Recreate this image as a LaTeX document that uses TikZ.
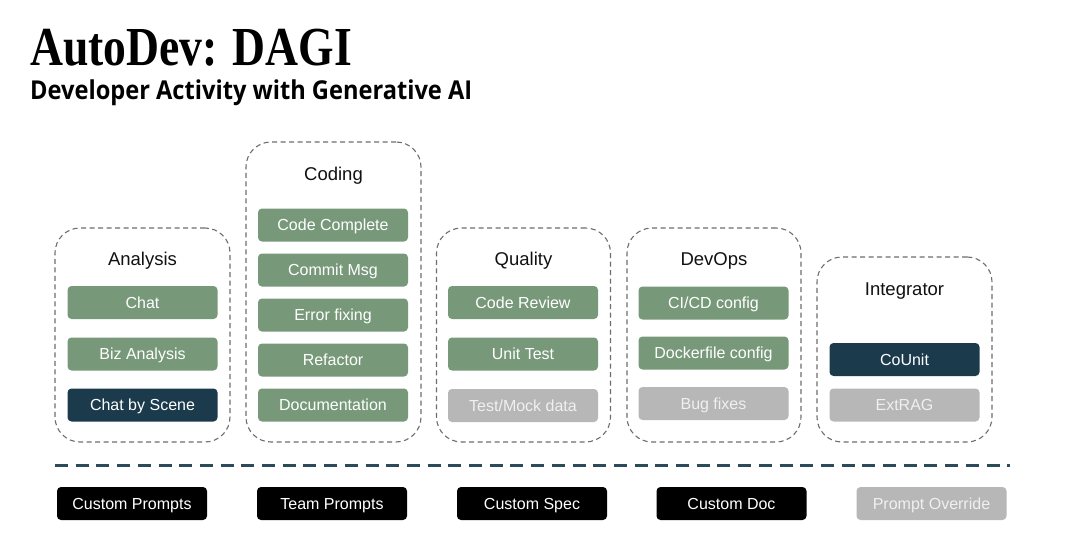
\documentclass[tikz,border=0pt]{standalone}
\usepackage{fontspec}
\setmainfont{Liberation Sans}
\newfontfamily\titlefont{Liberation Serif}
\newfontfamily\subfont{Open Sans}
\definecolor{boxgreen}{HTML}{77997A}
\definecolor{boxnavy}{HTML}{1B3B4D}
\definecolor{boxgray}{HTML}{B7B7B7}
\definecolor{grptext}{HTML}{111111}
\definecolor{grpline}{HTML}{6E6E6E}
\definecolor{sepline}{HTML}{2D4A5B}
\tikzset{
  grp/.style={draw=grpline, line width=1.1pt, dash pattern=on 5pt off 3.5pt, rounded corners=25pt, rectangle, inner sep=0pt},
  grptitle/.style={anchor=base, font=\fontsize{18.5}{18.5}\selectfont, text=grptext, inner sep=0pt},
  item/.style={rectangle, rounded corners=4pt, minimum width=150pt, inner xsep=0pt, inner ysep=11pt, text height=11pt, text depth=0pt, font=\fontsize{16}{16}\selectfont, text=white},
  green/.style={item, fill=boxgreen},
  navy/.style={item, fill=boxnavy},
  grayitem/.style={item, fill=boxgray, text=white!94!black},
  blackitem/.style={item, fill=black},
}
\begin{document}
\begin{tikzpicture}[x=1pt,y=-1pt]
\useasboundingbox[fill=white] (0,0) rectangle (1080,543);
% titles
\node[anchor=base west, inner sep=0pt] (title) at (30,65.5) {\resizebox{322pt}{\height}{\fontsize{55}{55}\selectfont\titlefont\bfseries AutoDev: DAGI}};
\node[anchor=base west, inner sep=0pt] (subtitle) at (30,99.5) {\resizebox{442pt}{\height}{\fontsize{26}{26}\selectfont\subfont\bfseries Developer Activity with Generative AI}};
% groups
\node[grp, minimum width=175pt, minimum height=214pt] (gAnalysis) at (142.5,335) {};
\node[grp, minimum width=175pt, minimum height=300pt] (gCoding) at (333.5,292) {};
\node[grp, minimum width=174pt, minimum height=214pt] (gQuality) at (523.5,335) {};
\node[grp, minimum width=174pt, minimum height=214pt] (gDevOps) at (714,335) {};
\node[grp, minimum width=175pt, minimum height=185pt] (gIntegrator) at (904.5,349.5) {};
\node[grptitle] (tAnalysis) at (142.5,265) {Analysis};
\node[grptitle] (tCoding) at (333.5,180) {Coding};
\node[grptitle] (tQuality) at (523.5,265) {Quality};
\node[grptitle] (tDevOps) at (714,265) {DevOps};
\node[grptitle] (tIntegrator) at (904.5,295) {Integrator};
% Analysis
\node[green] (chat) at (142.5,302.5) {Chat};
\node[green] (biz) at (142.5,354) {Biz Analysis};
\node[navy] (scene) at (142.5,405) {Chat by Scene};
% Coding
\node[green] (complete) at (333,225) {Code Complete};
\node[green] (commit) at (333,270) {Commit Msg};
\node[green] (error) at (333,315) {Error fixing};
\node[green] (refactor) at (333,360) {Refactor};
\node[green] (doc) at (333,405) {Documentation};
% Quality
\node[green] (review) at (523,302.5) {Code Review};
\node[green] (unit) at (523,354) {Unit Test};
\node[grayitem] (mock) at (523,405.5) {Test/Mock data};
% DevOps
\node[green] (cicd) at (713.5,303) {CI/CD config};
\node[green] (docker) at (713.5,353) {Dockerfile config};
\node[grayitem] (bug) at (713.5,403.5) {Bug fixes};
% Integrator
\node[navy] (counit) at (904.5,359.5) {CoUnit};
\node[grayitem] (extrag) at (904.5,405) {ExtRAG};
% separator
\coordinate (sepL) at (55,465);
\coordinate (sepR) at (1010,465);
\draw[sepline, line width=3pt, dash pattern=on 13pt off 7.7pt] (sepL) -- (sepR);
% bottom
\node[blackitem] (cprompts) at (132,503.5) {Custom Prompts};
\node[blackitem] (tprompts) at (332,503.5) {Team Prompts};
\node[blackitem] (cspec) at (532,503.5) {Custom Spec};
\node[blackitem] (cdoc) at (731.5,503.5) {Custom Doc};
\node[grayitem] (override) at (931.5,503.5) {Prompt Override};
\end{tikzpicture}
\end{document}
